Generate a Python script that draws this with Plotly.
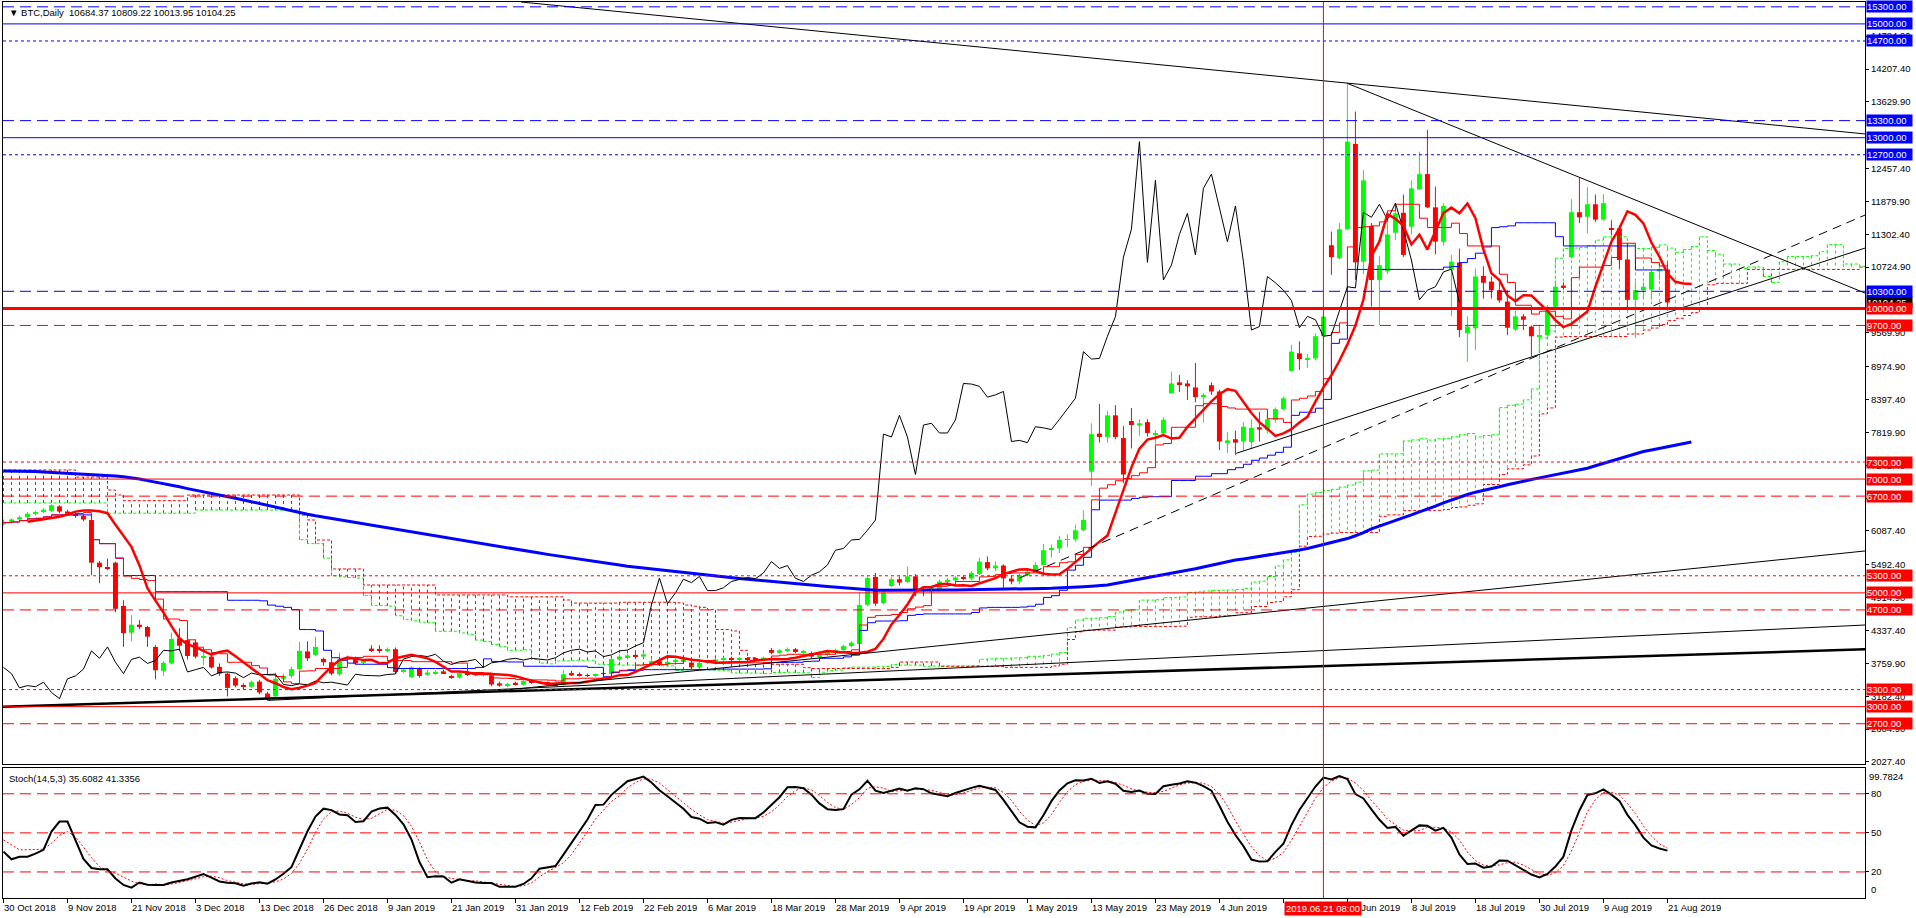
import plotly.graph_objects as go
import numpy as np

# ---------------- data (daily bars, weekdays; index 0 = 30 Oct 2018) ----------------
open_ = [
6205,6250,6290,6330,6390,6420,6440,6520,6430,6390,
6350,6280,5530,5450,5530,4770,4300,4440,4400,4050,
3630,3760,4200,4170,4130,3860,3880,3700,3580,3500,
3380,3350,3440,3230,3180,3490,3540,3660,3970,3910,
3840,3780,3570,3820,3870,3770,4020,4000,3990,4010,
3610,3520,3660,3560,3590,3620,3540,3510,3580,3570,
3560,3550,3410,3365,3420,3385,3440,3420,3430,3400,
3380,3590,3560,3550,3540,3580,3575,3830,3870,3910,
3880,3740,3800,3740,3790,3800,3775,3690,3770,3790,
3830,3850,3820,3850,3840,3820,3996,3945,3990,4010,
3960,3940,3880,3910,3980,3995,4065,4100,4790,5280,
4820,5120,5240,5190,5290,5050,5030,5060,5200,5220,
5280,5250,5330,5540,5430,5480,5250,5200,5310,5370,
5490,5760,5780,5930,5940,6100,7130,7800,7740,8120,
7720,8020,7940,8000,7790,7800,8510,8700,8680,8610,
8440,8650,8540,7650,7700,7660,7650,7910,7860,8040,
8230,8900,9210,9100,9120,9510,11110,10880,11390,12890,
10820,11450,10500,10650,11330,11680,11435,12093,12360,11776,
11172,10680,10805,9565,9650,10570,10470,10320,10120,9630,
9860,9680,9500,9530,10030,10400,10900,11690,11610,11830,
11560,11400,11407,10860,10150,10320,10330,10650,10684.37]

high = [
6290,6310,6360,6420,6440,6490,6560,6540,6460,6420,
6380,6300,5560,5600,5550,4870,4610,4520,4420,4080,
3800,4300,4380,4260,4180,4000,3950,3760,3600,3530,
3410,3460,3470,3260,3600,3580,3700,4140,4150,4230,
3860,3850,3950,3900,3880,3830,4080,4080,4040,4040,
3680,3710,3690,3650,3640,3650,3560,3610,3600,3600,
3590,3560,3440,3420,3440,3470,3460,3450,3440,3420,
3640,3630,3600,3580,3580,3620,3860,3920,3930,3940,
3960,3860,3830,3820,3840,3860,3800,3800,3820,3860,
3870,3880,3870,3870,3860,3880,4030,4010,4040,4030,
4000,3970,3930,4000,4020,4090,4150,5020,5290,5350,
5030,5280,5290,5460,5330,5100,5120,5230,5260,5300,
5310,5380,5620,5640,5550,5500,5300,5340,5420,5540,
5860,5850,6000,6030,6200,6450,7980,8320,8200,8300,
7930,8250,8050,8050,7860,8090,8890,8830,8740,9040,
8510,8700,8570,7830,7850,8000,8050,8180,8180,8260,
8450,9360,9420,9200,9560,9870,11350,11500,13950,13460,
12430,11500,10920,11500,11800,12000,12250,12754,13135,12140,
11850,10940,11050,9860,10700,10740,10560,10460,10320,9960,
9900,9700,9710,10060,10470,10460,11920,12290,12130,12000,
12010,11550,11460,11150,10470,10460,10680,10780,10809.22]

low = [
6180,6230,6270,6310,6360,6400,6420,6400,6360,6320,
6260,5310,5170,5400,4660,4050,4150,4360,4050,3480,
3540,3740,3980,3830,3850,3730,3670,3540,3180,3340,
3290,3330,3220,3110,3150,3450,3500,3640,3800,3890,
3720,3550,3540,3780,3740,3730,3960,3940,3960,3580,
3590,3500,3510,3540,3560,3580,3490,3490,3540,3540,
3530,3360,3350,3340,3370,3370,3400,3400,3380,3360,
3370,3540,3530,3520,3520,3550,3560,3800,3840,3860,
3860,3700,3720,3700,3760,3780,3660,3670,3750,3780,
3800,3800,3800,3800,3800,3800,3920,3930,3960,3940,
3930,3850,3860,3890,3960,3980,4040,4090,4770,4770,
4800,5100,5130,5170,4940,4940,5000,5040,5170,5190,
5220,5220,5310,5400,5380,5060,5150,5150,5290,5360,
5480,5620,5700,5800,5900,6080,6880,7640,7640,7700,
6930,7540,7760,7750,7610,7780,8500,8530,8390,8350,
7990,8480,7510,7460,7420,7500,7520,7660,7800,7990,
8210,8890,8920,8950,9090,9480,10590,10860,11380,10500,
10600,10030,9710,10600,11200,10900,11300,12080,11760,10950,
11100,9860,9495,9060,9270,10170,10170,10100,9530,9600,
9620,9160,9215,9500,10000,10330,10880,11500,11320,11520,
11540,11280,10700,10000,9480,10170,10150,10500,10013.95]

close = [
6250,6290,6330,6390,6420,6460,6540,6430,6390,6350,
6290,5530,5450,5420,4720,4290,4440,4400,4230,3640,
3770,4190,4070,3890,3880,3890,3690,3580,3330,3370,
3350,3430,3250,3140,3490,3540,3660,3980,3850,4050,
3780,3580,3830,3870,3760,3810,3990,3980,4010,3610,
3650,3690,3540,3600,3610,3590,3510,3590,3560,3560,
3570,3390,3370,3400,3385,3450,3420,3430,3400,3380,
3570,3550,3545,3540,3565,3575,3837,3880,3900,3880,
3920,3800,3740,3790,3800,3830,3690,3770,3790,3830,
3850,3820,3850,3830,3820,3860,3945,3990,4010,3960,
3980,3880,3910,3980,3995,4065,4125,4787,5260,4810,
5000,5240,5180,5290,5040,5040,5090,5200,5230,5270,
5250,5350,5550,5430,5480,5255,5200,5310,5370,5490,
5750,5780,5930,5940,6100,6280,7790,7740,8120,7740,
7080,7950,7980,7810,7810,8040,8680,8670,8630,8440,
8480,8540,7660,7680,7640,7920,7900,7870,8050,8230,
8420,9240,9110,9120,9510,9855,10900,11390,12930,10810,
12250,10500,10760,11300,11670,10940,12110,12360,11776,11172,
11800,10820,9620,9680,10560,10450,10320,10140,9660,9860,
9800,9510,9530,9940,10380,10360,11690,11600,11830,11560,
11850,11380,10850,10150,10320,10380,10640,10690,10104.25]

# cloud values read at the left edge (before the computed spans are available)
senkou_a_early = [6580]*13 + [6400]*11 + [6456]*13                      # bars 0-36
senkou_b_early = ([7160]*9 + [7035]*4 + [6807, 6720] + [6620]*8 + [6720]*14 +
                  [6368, 6281, 5929, 5929] + [5420]*4 + [5138]*9 + [4963]*9 +
                  [4930]*7 + [4875] + [4820]*6)                            # bars 0-76

# 200-period EMA (blue, thick): value read at the left edge of the chart
ema200_start = 7142

# stochastic values read at the left edge (bars 0-16 for %K, 0-18 for %D)
stoch_k_early = [35.6, 29.7, 31.7, 31.7, 34, 37, 51, 58.7, 58.7, 45, 30, 23, 22, 22, 15, 10, 8]
stoch_d_early = [44.6, 41, 37, 37, 37, 37.5, 42, 48, 51, 47, 39, 31, 24, 21, 19, 16, 13, 11, 10]

# horizontal levels
levels = [15300, 15000, 14700, 13300, 13000, 12700, 10300, 10000, 9700,
          7300, 7000, 6700, 5300, 5000, 4700, 3300, 3000, 2700]
level_styles = ["dash", "solid", "dot", "dash", "solid", "dot", "dash", "solid", "dash",
                "dot", "solid", "dash", "dot", "solid", "dash", "dot", "solid", "dash"]
level_colors = ["#0000FF"] * 7 + ["#FF0000"] * 11

# trend lines: (bar0, price0, bar1, price1, width, dash)
trend_lines = [
    (64.7, 15385, 233, 13062, 1, "solid"),
    (168, 13955, 232.7, 10270, 1, "solid"),
    (154.1, 7452, 232.7, 11060, 1, "solid"),
    (127, 5260, 232.7, 11640, 1, "dash"),
    (-0.5, 2997, 232.7, 4007, 2.5, "solid"),
    (33, 3110, 232.7, 4435, 1, "solid"),
    (62, 3280, 232.7, 5736, 1, "solid"),
]

price_ticks = [2027.40, 2604.90, 3182.40, 3759.90, 4337.40, 4914.90, 5492.40, 6087.40, 6664.90,
               7242.40, 7819.90, 8397.40, 8974.90, 9569.90, 10724.90, 11302.40,
               11879.90, 12457.40, 13629.90, 14207.40, 14784.90]

date_labels = ["30 Oct 2018", "9 Nov 2018", "21 Nov 2018", "3 Dec 2018", "13 Dec 2018", "26 Dec 2018",
               "9 Jan 2019", "21 Jan 2019", "31 Jan 2019", "12 Feb 2019", "22 Feb 2019", "6 Mar 2019",
               "18 Mar 2019", "28 Mar 2019", "9 Apr 2019", "19 Apr 2019", "1 May 2019", "13 May 2019",
               "23 May 2019", "4 Jun 2019", "", "26 Jun 2019", "8 Jul 2019", "18 Jul 2019",
               "30 Jul 2019", "9 Aug 2019", "21 Aug 2019"]
date_label_bars = list(range(0, 209, 8))
vline_bar = 165

# ---------------- indicators ----------------
n = len(close)
o = np.array(open_, float); h = np.array(high, float); l = np.array(low, float); c = np.array(close, float)

def mid(period, i):
    lo = max(0, i - period + 1)
    return (h[lo:i + 1].max() + l[lo:i + 1].min()) / 2

tenkan = [mid(9, i) for i in range(n)]
kijun = [mid(26, i) for i in range(n)]
N = n + 26
spanA = list(senkou_a_early) + [(tenkan[i - 26] + kijun[i - 26]) / 2 for i in range(len(senkou_a_early), N)]
spanB = list(senkou_b_early) + [(h[i - 77:i - 25].max() + l[i - 77:i - 25].min()) / 2
                                for i in range(len(senkou_b_early), N)]

SHIFT = 3
ma5 = [c[max(0, i - 4):i + 1].mean() for i in range(n)]
ma_x = [i + SHIFT for i in range(n)]

alpha = 2.0 / 201
ema = [ema200_start]
for i in range(1, n):
    ema.append(ema[-1] + alpha * (c[i] - ema[-1]))
ema_x = [0] + ma_x
ema_y = [ema200_start] + ema

num = [c[i] - l[max(0, i - 13):i + 1].min() for i in range(n)]
den = [h[max(0, i - 13):i + 1].max() - l[max(0, i - 13):i + 1].min() for i in range(n)]
K = list(stoch_k_early) + [100 * sum(num[i - 4:i + 1]) / sum(den[i - 4:i + 1]) for i in range(len(stoch_k_early), n)]
D = list(stoch_d_early) + [np.mean(K[i - 2:i + 1]) for i in range(len(stoch_d_early), n)]

# ---------------- figure ----------------
W, H = 1916, 918
ML, MR, MT, MB = 3, 51, 2, 20
PW, PH = W - ML - MR, H - MT - MB
def py2paper(py):
    return (H - MB - py) / PH

main_dom = [py2paper(764), 1]
sto_dom = [0, py2paper(768)]
XR = [-0.06, 232.7]
YR = [1992, 15385]

fig = go.Figure()
GREEN, RED, BLUE = "#00FF00", "#FF0000", "#0000FF"

# cloud hatches
gx, gy, rx, ry = [], [], [], []
for i in range(N):
    a, b = spanA[i], spanB[i]
    if a >= b:
        gx += [i, i, None]; gy += [a, b, None]
    else:
        rx += [i, i, None]; ry += [a, b, None]
fig.add_trace(go.Scatter(x=gx, y=gy, mode="lines", line=dict(color=GREEN, width=1, dash="3px,3px"), hoverinfo="skip"))
fig.add_trace(go.Scatter(x=rx, y=ry, mode="lines", line=dict(color=RED, width=1, dash="3px,3px"), hoverinfo="skip"))
fig.add_trace(go.Scatter(x=list(range(N)), y=spanA, mode="lines", line=dict(color=GREEN, width=1, dash="3px,2px", shape="hv")))
fig.add_trace(go.Scatter(x=list(range(N)), y=spanB, mode="lines", line=dict(color=RED, width=1, dash="3px,2px", shape="hv")))

# candles
base = np.minimum(o, c)
hgt = np.maximum(np.abs(c - o), 14)
cols = [GREEN if c[i] >= o[i] else RED for i in range(n)]
fig.add_trace(go.Bar(x=list(range(n)), y=hgt, base=base, width=0.62, marker=dict(color=cols, line=dict(width=0)),
                     hoverinfo="skip"))
wgx, wgy, wrx, wry = [], [], [], []
for i in range(n):
    if c[i] >= o[i]:
        wgx += [i, i, None]; wgy += [l[i], h[i], None]
    else:
        wrx += [i, i, None]; wry += [l[i], h[i], None]
fig.add_trace(go.Scatter(x=wgx, y=wgy, mode="lines", line=dict(color=GREEN, width=1)))
fig.add_trace(go.Scatter(x=wrx, y=wry, mode="lines", line=dict(color=RED, width=1)))

# moving averages & ichimoku lines
fig.add_trace(go.Scatter(x=ema_x, y=ema_y, mode="lines", line=dict(color=BLUE, width=3)))
fig.add_trace(go.Scatter(x=list(range(n)), y=kijun, mode="lines", line=dict(color=BLUE, width=1, shape="hv")))
fig.add_trace(go.Scatter(x=list(range(n)), y=tenkan, mode="lines", line=dict(color=RED, width=1, shape="hv")))
fig.add_trace(go.Scatter(x=[i - 26 for i in range(26, n)], y=close[26:], mode="lines", line=dict(color="black", width=1)))
fig.add_trace(go.Scatter(x=ma_x, y=ma5, mode="lines", line=dict(color=RED, width=2.5)))

for (x0, y0, x1, y1, w, d) in trend_lines:
    fig.add_trace(go.Scatter(x=[x0, x1], y=[y0, y1], mode="lines",
                             line=dict(color="black", width=w, dash=("9px,6px" if d == "dash" else "solid"))))

# stochastic
fig.add_trace(go.Scatter(x=list(range(n)), y=D, mode="lines", line=dict(color=RED, width=1, dash="2px,2px"),
                         xaxis="x2", yaxis="y2"))
fig.add_trace(go.Scatter(x=list(range(n)), y=K, mode="lines", line=dict(color="black", width=2),
                         xaxis="x2", yaxis="y2"))

shapes = []
dash_map = {"dash": "11px,6px", "dot": "3px,3px", "solid": "solid"}
for lv, st, col in zip(levels, level_styles, level_colors):
    shapes.append(dict(type="line", xref="paper", x0=0, x1=1, yref="y", y0=lv, y1=lv,
                       line=dict(color=col, width=(3 if lv == 10000 else 1), dash=dash_map[st])))
for lv in [80, 50, 20]:
    shapes.append(dict(type="line", xref="paper", x0=0, x1=1, yref="y2", y0=lv, y1=lv,
                       line=dict(color=RED, width=1, dash="11px,6px")))
shapes.append(dict(type="line", xref="x", x0=vline_bar, x1=vline_bar, yref="paper", y0=0, y1=1,
                   line=dict(color=RED, width=1)))

FONT = "Liberation Sans, Arial, sans-serif"
ann = []
ann.append(dict(xref="paper", x=1, xanchor="left", xshift=1, yref="y", y=close[-1], text="10104.25",
                showarrow=False, bgcolor="black", font=dict(color="white", size=9.5, family=FONT),
                borderpad=0, width=45, height=11, align="left"))
for lv, col in zip(levels, level_colors):
    ann.append(dict(xref="paper", x=1, xanchor="left", xshift=1, yref="y", y=lv, text=f"{lv:.2f}",
                    showarrow=False, bgcolor=col, font=dict(color="white", size=9.5, family=FONT),
                    borderpad=0, width=45, height=11, align="left"))
for b, t in zip(date_label_bars, date_labels):
    if t:
        ann.append(dict(xref="x2", x=b, xanchor="left", xshift=-1, yref="paper", y=0, yanchor="top", yshift=-2,
                        text=t, showarrow=False, font=dict(color="black", size=9.5, family=FONT)))
ann.append(dict(xref="x2", x=vline_bar, xanchor="center", yref="paper", y=0, yanchor="top", yshift=-3,
                text="2019.06.21 08:00", showarrow=False, bgcolor=RED, borderpad=1,
                font=dict(color="white", size=9.5, family=FONT)))
ann.append(dict(xref="paper", x=0.002, xanchor="left", yref="paper", y=1, yanchor="top", yshift=-3,
                text="▼ BTC,Daily  10684.37 10809.22 10013.95 10104.25", showarrow=False,
                font=dict(color="black", size=9.5, family=FONT)))
ann.append(dict(xref="paper", x=0.002, xanchor="left", yref="paper", y=sto_dom[1], yanchor="top", yshift=-3,
                text="Stoch(14,5,3) 35.6082 41.3356", showarrow=False,
                font=dict(color="black", size=9.5, family=FONT)))
ann.append(dict(xref="paper", x=1, xanchor="left", xshift=2, yref="paper", y=sto_dom[1], yanchor="top", yshift=-1,
                text="99.7824", showarrow=False, font=dict(color="black", size=9.5, family=FONT)))
ann.append(dict(xref="paper", x=1, xanchor="left", xshift=4, yref="paper", y=0, yanchor="bottom", yshift=1,
                text="0", showarrow=False, font=dict(color="black", size=9.5, family=FONT)))

axis_common = dict(showgrid=False, zeroline=False, showline=True, mirror=True, linecolor="black", linewidth=1)
fig.update_layout(
    width=W, height=H, margin=dict(l=ML, r=MR, t=MT, b=MB),
    paper_bgcolor="white", plot_bgcolor="white", showlegend=False, barmode="overlay",
    font=dict(family=FONT, size=9.5, color="black"),
    xaxis=dict(domain=[0, 1], range=XR, anchor="y", showticklabels=False, ticks="", **axis_common),
    yaxis=dict(domain=main_dom, range=YR, side="right", anchor="x", tickvals=price_ticks,
               ticktext=[f"{v:.2f}" for v in price_ticks], ticks="outside", ticklen=3, tickcolor="black",
               tickfont=dict(size=9.5, family=FONT), **axis_common),
    xaxis2=dict(domain=[0, 1], range=XR, anchor="y2", tickvals=date_label_bars, showticklabels=False,
                ticks="outside", ticklen=4, tickcolor="black", **axis_common),
    yaxis2=dict(domain=sto_dom, range=[0, 99.78], side="right", anchor="x2", tickvals=[20, 50, 80],
                ticktext=["20", "50", "80"], ticks="outside", ticklen=3, tickcolor="black",
                tickfont=dict(size=9.5, family=FONT), **axis_common),
    shapes=shapes, annotations=ann,
)

fig.write_html("out.html")
